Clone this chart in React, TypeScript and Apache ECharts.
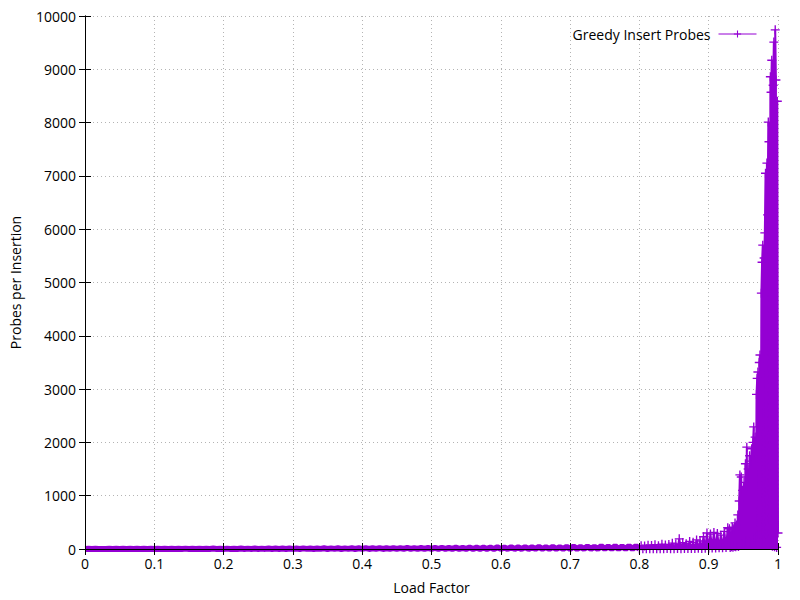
import React, { useEffect, useRef } from "react";
import * as echarts from "echarts";

const seriesName = "Greedy Insert Probes";
const xTitle = "Load Factor";
const yTitle = "Probes per Insertion";

// Segment A: load factor 0.000 – 0.800, sampled every 0.005
const lfStartA = 0;
const lfStepA = 0.005;
const probesA = [
  1, 3, 1, 4, 1, 2, 1, 5, 1, 3, 1, 4, 2, 3, 1, 6, 1, 4, 2, 5,
  1, 4, 1, 6, 2, 5, 1, 4, 1, 7, 2, 5, 1, 6, 1, 5, 2, 8, 1, 6,
  2, 7, 1, 6, 2, 9, 1, 7, 2, 8, 1, 7, 2, 10, 1, 8, 2, 9, 1, 11,
  2, 9, 1, 12, 2, 10, 1, 11, 2, 13, 1, 12, 2, 14, 1, 12, 2, 15, 1, 13,
  2, 16, 1, 14, 2, 17, 1, 15, 2, 18, 2, 16, 1, 20, 2, 17, 1, 19, 2, 22,
  2, 21, 1, 24, 2, 22, 1, 26, 2, 23, 2, 28, 1, 25, 2, 30, 2, 27, 1, 32,
  2, 30, 1, 34, 2, 31, 2, 36, 1, 33, 2, 38, 2, 35, 1, 40, 2, 37, 2, 42,
  2, 45, 1, 40, 2, 48, 2, 44, 1, 52, 2, 47, 2, 55, 1, 50, 2, 58, 2, 54,
  2,
];

// Segment B: load factor 0.8025 – 0.9275, sampled every 0.0025
const lfStartB = 0.8025;
const lfStepB = 0.0025;
const probesB = [
  60, 5, 55, 6, 70, 4, 65, 7, 80, 5, 60, 6, 90, 5, 75, 8, 85, 6, 110, 7,
  95, 8, 190, 6, 120, 9, 100, 8, 140, 10, 125, 9, 170, 12, 150, 10, 230, 14, 300, 15,
  280, 18, 310, 20, 290, 22, 260, 25, 330, 28, 400,
];

// Segment C: load factor 0.930 – 1.000, sampled every 0.001
const lfStartC = 0.93;
const lfStepC = 0.001;
const probesC = [
  380, 30, 320, 40, 410, 35, 360, 50, 490, 40,
  450, 60, 640, 45, 900, 1390, 70, 1350, 90, 1100,
  120, 1250, 80, 1600, 150, 1910, 110, 1500, 170, 1750,
  130, 1650, 1880, 190, 2000, 2290, 220, 2100, 160, 2900,
  3200, 3320, 260, 3500, 3640, 180, 4800, 5380, 5700, 130,
  5460, 5930, 7050, 90, 7240, 6270, 8010, 7640, 70, 8860,
  8570, 9170, 50, 8700, 9510, 40, 9740, 8800, 30, 8400,
  300,
];

const xTicks = [0, 0.1, 0.2, 0.3, 0.4, 0.5, 0.6, 0.7, 0.8, 0.9, 1];

const PURPLE = "#9400d3";
const FONT = "Open Sans";
const FS = 14;
const PLUS = "path://M4.25,0h1.5v4.25h4.25v1.5h-4.25v4.25h-1.5v-4.25h-4.25v-1.5h4.25z";

function toPoints(start: number, step: number, values: number[]) {
  return values.map((v, i) => [+(start + i * step).toFixed(4), v]);
}

export default function App() {
  const ref = useRef<HTMLDivElement>(null);

  useEffect(() => {
    if (!ref.current) return;
    const chart = echarts.init(ref.current, null, { renderer: "svg" });

    const pointsA = toPoints(lfStartA, lfStepA, probesA);
    const pointsB = toPoints(lfStartB, lfStepB, probesB);
    const pointsC = toPoints(lfStartC, lfStepC, probesC);
    // low, dense part of the curve (reads as a solid band)
    const lowData = pointsA;
    // high-load part of the curve, joined to the end of the low part
    const highData = [pointsA[pointsA.length - 1], ...pointsB, ...pointsC];

    const gridLine = {
      show: true,
      lineStyle: { color: "#b4b4b4", type: [1, 3] as number[], width: 1 },
    };
    const axisLine = { show: true, lineStyle: { color: "#000", width: 1 } };
    const tick = { show: true, inside: true, length: 6, lineStyle: { color: "#000", width: 1 } };
    const none = {
      axisLine: { show: false },
      axisTick: { show: false },
      axisLabel: { show: false },
    };
    const xScale = { type: "value", min: 0, max: 1, interval: 0.1 };
    const yScale = { type: "value", min: 0, max: 10000, interval: 1000 };
    const labelStyle = { color: "#000", fontSize: FS, fontFamily: FONT };

    chart.setOption({
      animation: false,
      backgroundColor: "#fff",
      textStyle: { fontFamily: FONT },
      grid: { left: 85, right: 22, top: 16, bottom: 51, containLabel: false },
      legend: {
        data: [seriesName],
        right: 38,
        top: 22,
        align: "right",
        itemWidth: 38,
        itemHeight: 9,
        lineStyle: { width: 1 },
        textStyle: { ...labelStyle, padding: [0, 3, 0, 0] },
      },
      xAxis: [
        {
          ...xScale,
          position: "bottom",
          z: 10,
          axisLine,
          axisTick: tick,
          splitLine: { show: false },
          axisLabel: {
            ...labelStyle,
            margin: 7,
            formatter: (v: number) => {
              const t = xTicks.find((k) => Math.abs(k - v) < 1e-6);
              return String(t !== undefined ? t : +v.toFixed(1));
            },
          },
          name: xTitle,
          nameLocation: "middle",
          nameGap: 31,
          nameTextStyle: labelStyle,
        },
        {
          ...xScale,
          position: "top",
          z: 10,
          axisLine,
          axisTick: tick,
          splitLine: { show: false },
          axisLabel: { show: false },
        },
        {
          ...xScale,
          position: "bottom",
          z: 0,
          ...none,
          splitLine: gridLine,
        },
      ],
      yAxis: [
        {
          ...yScale,
          position: "left",
          z: 10,
          axisLine,
          axisTick: tick,
          splitLine: { show: false },
          axisLabel: { ...labelStyle, margin: 9, formatter: (v: number) => String(v) },
          name: yTitle,
          nameLocation: "middle",
          nameGap: 63,
          nameRotate: 90,
          nameTextStyle: labelStyle,
        },
        {
          ...yScale,
          position: "right",
          z: 10,
          axisLine,
          axisTick: tick,
          splitLine: { show: false },
          axisLabel: { show: false },
        },
        {
          ...yScale,
          position: "left",
          z: 0,
          ...none,
          splitLine: gridLine,
        },
      ],
      series: [
        {
          name: seriesName,
          type: "line",
          xAxisIndex: 0,
          yAxisIndex: 0,
          data: highData,
          showSymbol: true,
          showAllSymbol: true,
          symbol: PLUS,
          symbolSize: 9,
          itemStyle: { color: PURPLE },
          lineStyle: { color: PURPLE, width: 2 },
          areaStyle: { color: PURPLE, opacity: 1 },
          emphasis: { disabled: true },
          z: 2,
        },
        {
          name: seriesName,
          type: "line",
          xAxisIndex: 0,
          yAxisIndex: 0,
          data: lowData,
          showSymbol: false,
          itemStyle: { color: PURPLE },
          lineStyle: { color: PURPLE, width: 6 },
          emphasis: { disabled: true },
          z: 2,
        },
      ],
    });

    return () => chart.dispose();
  }, []);

  return (
    <div
      ref={ref}
      style={{ position: "fixed", left: 0, top: 0, width: 800, height: 600, background: "#fff" }}
    />
  );
}
